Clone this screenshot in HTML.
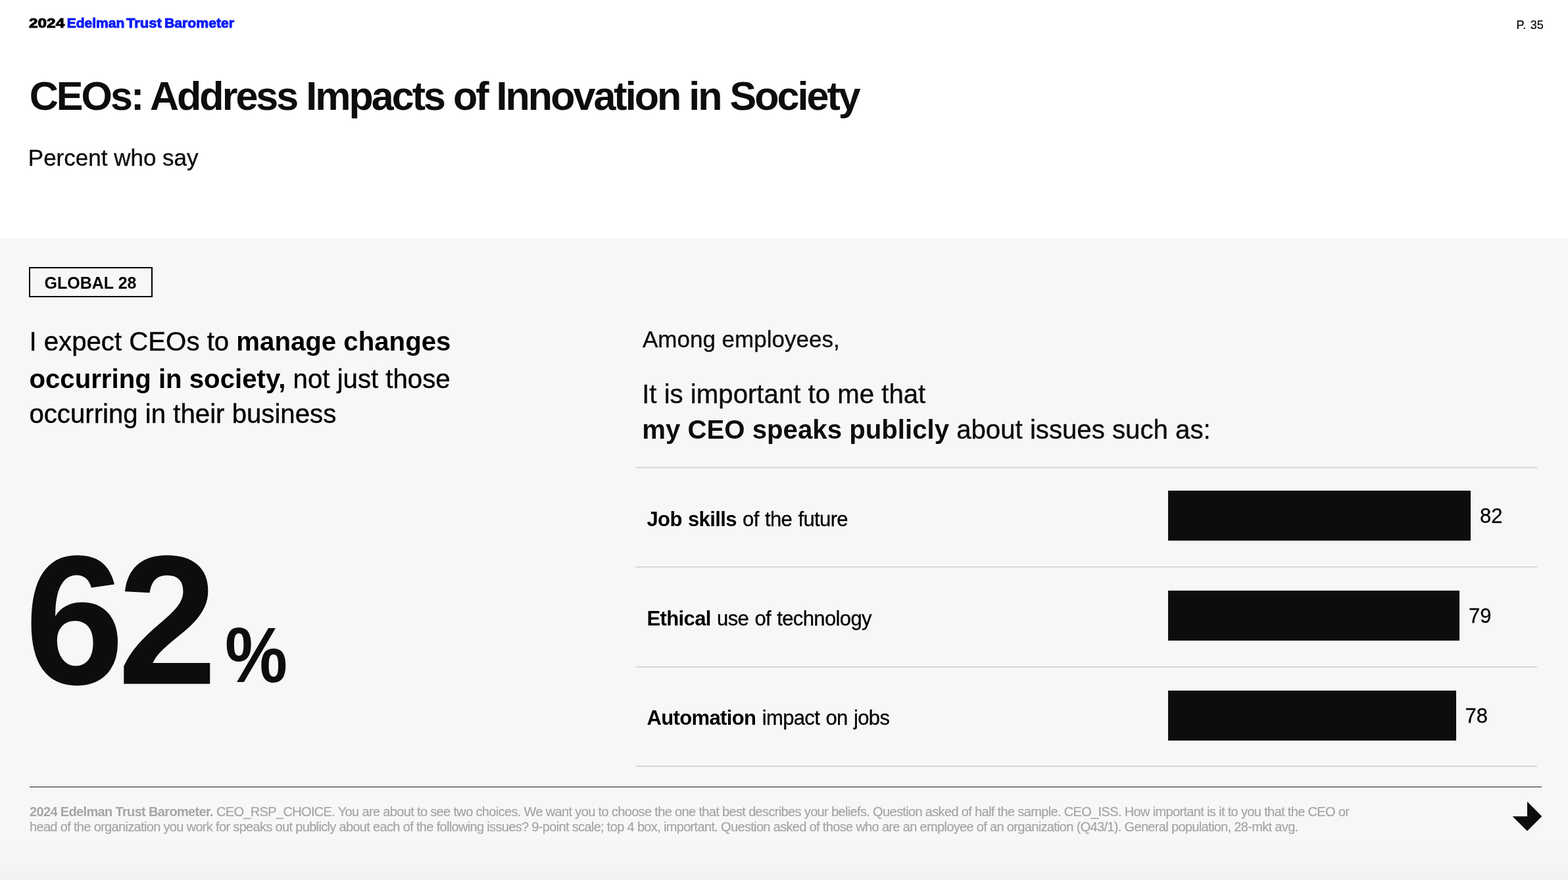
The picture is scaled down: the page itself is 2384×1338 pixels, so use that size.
<!DOCTYPE html>
<html lang="en">
<head>
<meta charset="utf-8">
<title>CEOs: Address Impacts of Innovation in Society</title>
<style>
*{margin:0;padding:0;box-sizing:border-box}
html,body{width:2384px;height:1338px;overflow:hidden;background:#fff}
body{position:relative;font-family:"Liberation Sans",sans-serif;color:#0d0d0d}
.abs{position:absolute;white-space:nowrap;line-height:1;transform-origin:0 0}
b{font-weight:700;-webkit-text-stroke:0}
#panel{position:absolute;left:0;top:362px;width:2384px;height:976px;background:#f7f7f7}
#fade{position:absolute;left:0;top:1276px;width:2384px;height:62px;background:linear-gradient(#f7f7f7,#f6f6f6 50%,#f2f2f2)}
.brand{top:23.8px;font-size:21px;font-weight:700;-webkit-text-stroke:1px currentColor;color:#000}
.brand.bl{color:#0f1df5}
#page{left:2305.6px;top:29px;font-size:18px;word-spacing:1.4px;color:#000;-webkit-text-stroke:0.2px #000}
#title{left:44.7px;top:115.4px;font-size:61px;font-weight:700;letter-spacing:-2.97px;transform:scaleY(1.012)}
#sub{left:42.8px;top:222.4px;font-size:35px;-webkit-text-stroke:0.35px #0d0d0d}
#tag{left:44px;top:406px;width:188px;height:46px;border:2px solid #000}
#tagt{left:67.6px;top:417.1px;font-size:25px;font-weight:700;transform:scaleY(1.04);color:#000}
.lp{left:44.4px;font-size:40.2px;color:#000;-webkit-text-stroke:0.4px #000}
#big{left:37.6px;top:803.2px;font-size:272px;font-weight:700;letter-spacing:-10px;transform:scaleY(1.029)}
#pct{left:341.7px;top:936.8px;font-size:118px;font-weight:700;transform:scaleX(0.906)}
#among{left:977px;top:498.1px;font-size:35px;-webkit-text-stroke:0.35px #0d0d0d}
.imp{left:976.2px;font-size:40.2px;-webkit-text-stroke:0.4px #0d0d0d}
.rule{position:absolute;left:966px;width:1371px;height:2px;background:#d9d9d9}
.lab{left:983.5px;font-size:31px;letter-spacing:-0.63px;word-spacing:1.3px;color:#000;-webkit-text-stroke:0.3px #000}
.bar{position:absolute;left:1776px;height:76px;background:#0d0d0d}
.val{font-size:31px;color:#000;-webkit-text-stroke:0.3px #000}
#frule{position:absolute;left:45px;top:1195.8px;width:2299px;height:1.4px;background:#1a1a1a}
.foot{left:45px;font-size:20px;color:#a5a5a5;letter-spacing:-0.645px;-webkit-text-stroke:0.2px #a5a5a5}
#arrow{position:absolute;left:2299px;top:1218px;width:46px;height:46px}
</style>
</head>
<body>
<div id="panel"></div>
<div id="fade"></div>
<div class="abs brand" style="left:43.5px;transform:scaleX(1.16)">2024</div>
<div class="abs brand bl" style="left:101.7px;transform:scaleX(1.0)">Edelman</div>
<div class="abs brand bl" style="left:192.3px;transform:scaleX(1.05)">Trust</div>
<div class="abs brand bl" style="left:249.6px;transform:scaleX(1.01)">Barometer</div>
<div class="abs" id="page">P. 35</div>
<div class="abs" id="title">CEOs: Address Impacts of Innovation in Society</div>
<div class="abs" id="sub">Percent who say</div>
<div class="abs" id="tag"></div>
<div class="abs" id="tagt">GLOBAL 28</div>
<div class="abs lp" style="top:500px">I expect CEOs to <b>manage changes</b></div>
<div class="abs lp" style="top:557px"><b>occurring in society,</b> not just those</div>
<div class="abs lp" style="top:610px">occurring in their business</div>
<div class="abs" id="big">62</div>
<div class="abs" id="pct">%</div>
<div class="abs" id="among">Among employees,</div>
<div class="abs imp" style="top:580px">It is important to me that</div>
<div class="abs imp" style="top:634px"><b>my CEO speaks publicly</b> about issues such as:</div>
<div class="rule" style="top:710px"></div>
<div class="rule" style="top:861px"></div>
<div class="rule" style="top:1013px"></div>
<div class="rule" style="top:1164px"></div>
<div class="abs lab" style="top:774px"><b>Job skills</b> of the future</div>
<div class="abs lab" style="top:925px"><b>Ethical</b> use of technology</div>
<div class="abs lab" style="top:1076px"><b>Automation</b> impact on jobs</div>
<div class="bar" style="top:746px;width:460px"></div>
<div class="bar" style="top:898px;width:443px"></div>
<div class="bar" style="top:1050px;width:438px"></div>
<div class="abs val" style="left:2250px;top:769.3px">82</div>
<div class="abs val" style="left:2233px;top:921.3px">79</div>
<div class="abs val" style="left:2227.4px;top:1073.4px">78</div>
<div id="frule"></div>
<div class="abs foot" style="top:1224px;letter-spacing:-0.652px"><b>2024 Edelman Trust Barometer.</b> CEO_RSP_CHOICE. You are about to see two choices. We want you to choose the one that best describes your beliefs. Question asked of half the sample. CEO_ISS. How important is it to you that the CEO or</div>
<div class="abs foot" style="top:1247.2px;letter-spacing:-0.667px">head of the organization you work for speaks out publicly about each of the following issues? 9-point scale; top 4 box, important. Question asked of those who are an employee of an organization (Q43/1). General population, 28-mkt avg.</div>
<svg id="arrow" viewBox="0 0 46 46"><path d="M23 0.8 L45.3 23.2 L23 45.6 L0.6 23.2 L23 23.2 Z" fill="#0d0d0d"/></svg>
</body>
</html>
